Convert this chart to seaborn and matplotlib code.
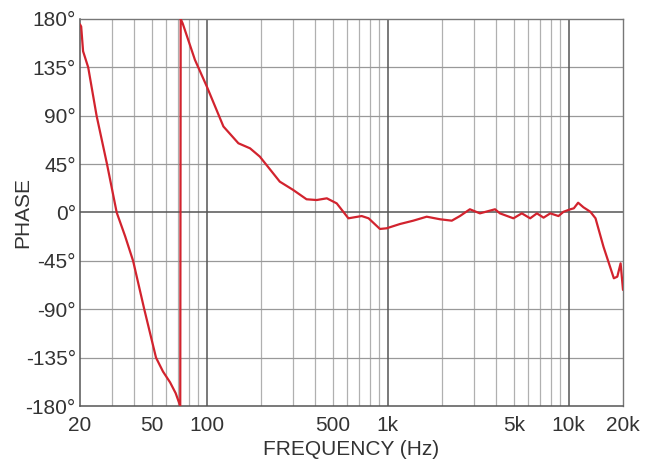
import numpy as np
import pandas as pd
import matplotlib
matplotlib.use("Agg")
import matplotlib.pyplot as plt
import seaborn as sns
from matplotlib.ticker import FixedLocator, NullFormatter

freq_hz = [20.0, 20.3, 20.8, 22.2, 24.7, 28.2, 31.9, 35.5, 39.3, 45.3, 52.6, 57.5, 62.9, 67.5, 71.6,
           72.0, 73.8, 86.3, 100.5, 124, 150, 174, 197, 254, 301, 357, 406, 462, 524,
           608, 720, 786, 908, 988, 1172, 1388, 1646, 1952, 2265, 2512, 2852, 3240,
           3926, 4180, 4960, 5520, 6140, 6690, 7280, 7930, 8800, 9390, 10240, 10700,
           11300, 12100, 13200, 14100, 15600, 17800, 18600, 19400, 20000]
phase_deg = [175, 173, 150, 135, 90, 45, 0, -22, -45, -90, -135, -148, -158, -168, -180,
             180, 176, 142, 117, 80, 64.4, 59.7, 52, 28.7, 21, 12.3, 11.6, 13.2, 8.5,
             -5.4, -3.3, -5.4, -15.3, -14.7, -10.7, -7.6, -3.9, -6.3, -7.6, -3.3, 3, -0.8,
             3, -0.8, -5.4, -0.8, -5.4, -0.8, -4.8, -0.8, -3.3, 0.7, 3, 3.9,
             9.1, 4.8, 0.7, -5.4, -31.8, -61.2, -59.7, -47.3, -72]

xtick_vals = [20, 50, 100, 500, 1000, 5000, 10000, 20000]
xtick_labels = ["20", "50", "100", "500", "1k", "5k", "10k", "20k"]
ytick_vals = [-180, -135, -90, -45, 0, 45, 90, 135, 180]
ytick_labels = ["-180°", "-135°", "-90°", "-45°", "0°", "45°", "90°", "135°", "180°"]

df = pd.DataFrame({"freq": freq_hz, "phase": phase_deg})

sns.set_style("white")
plt.rcParams["font.family"] = ["Liberation Sans", "DejaVu Sans"]

fig = plt.figure(figsize=(6.53, 4.61), dpi=100)
ax = fig.add_axes([80/653, 1 - 406/461, (623-80)/653, (406-19)/461])

ax.set_xscale("log")
ax.set_xlim(20, 20000)
ax.set_ylim(-180, 180)

# grid
minor = [m * d for d in (10, 100, 1000) for m in range(2, 10)]
for f in minor:
    if 20 < f < 20000:
        ax.axvline(f, color="#b0b0b0", lw=0.9, zorder=1)
for f in (100, 1000, 10000):
    ax.axvline(f, color="#555555", lw=1.1, zorder=1.5)
for p in ytick_vals:
    if p == 0:
        ax.axhline(p, color="#555555", lw=1.1, zorder=1.5)
    elif abs(p) != 180:
        ax.axhline(p, color="#999999", lw=0.9, zorder=1)

sns.lineplot(data=df, x="freq", y="phase", sort=False, color="#d2232e", lw=1.6,
             ax=ax, zorder=3, estimator=None)

ax.xaxis.set_major_locator(FixedLocator(xtick_vals))
ax.set_xticklabels(xtick_labels)
ax.xaxis.set_minor_formatter(NullFormatter())
ax.set_yticks(ytick_vals)
ax.set_yticklabels(ytick_labels)
ax.tick_params(axis="both", which="both", length=0, labelsize=15, colors="#333333")
ax.tick_params(axis="x", pad=7)
ax.tick_params(axis="y", pad=3)

ax.set_xlabel("FREQUENCY (Hz)", fontsize=15, color="#333333")
ax.set_ylabel("PHASE", fontsize=15, color="#333333")
ax.xaxis.set_label_coords(0.5, -0.088)
ax.yaxis.set_label_coords(-0.0884, 0.5)

for side in ("left", "bottom"):
    ax.spines[side].set_color("#555555")
    ax.spines[side].set_linewidth(1.1)
for side in ("top", "right"):
    ax.spines[side].set_color("#777777")
    ax.spines[side].set_linewidth(1.0)
    ax.spines[side].set_visible(True)

fig.savefig("out.png", dpi=100, facecolor="white")
